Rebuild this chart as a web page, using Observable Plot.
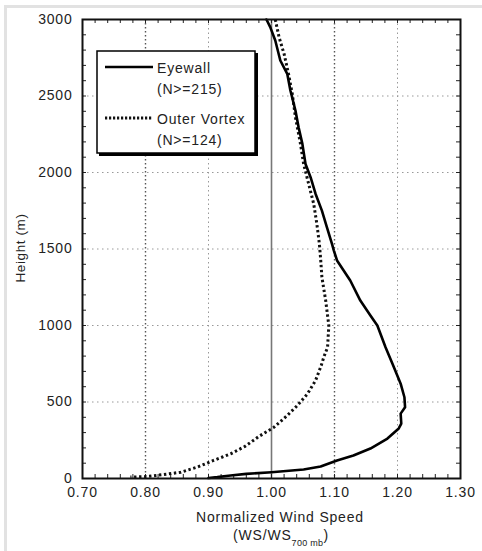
<!DOCTYPE html>
<html>
<head>
<meta charset="utf-8">
<script src="https://cdn.jsdelivr.net/npm/d3@7"></script>
<script src="https://cdn.jsdelivr.net/npm/@observablehq/plot@0.6"></script>
<style>
  html, body { margin: 0; padding: 0; background: #fff; }
  #wrap { position: relative; width: 482px; height: 551px; overflow: hidden; }
  #border { position: absolute; left: 4px; top: 5px; width: 500px; height: 560px;
            border-top: 3px solid #e2e2e2; border-left: 3px solid #e2e2e2; }
  #chart { position: absolute; left: 0; top: 0; }
  svg { font-family: "Liberation Sans", Arial, Helvetica, sans-serif; }
</style>
</head>
<body>
<div id="wrap"><div id="border"></div><div id="chart"></div></div>
<script>
// ---- Data ----
const eyewallWS = [0.992,0.998,1.006,1.014,1.025,1.030,1.038,1.043,1.049,1.054,1.062,1.070,1.080,1.088,1.096,1.099,1.104,1.125,1.141,1.157,1.168,1.181,1.192,1.205,1.211,1.212,1.205,1.206,1.202,1.184,1.157,1.130,1.104,1.078,1.051,1.000,0.960,0.935,0.914,0.900];
const eyewallH  = [3000,2950,2863,2732,2645,2536,2405,2296,2187,2056,1969,1860,1751,1642,1533,1490,1425,1294,1163,1065,1000,858,750,620,531,466,424,359,327,261,196,150,118,78,59,41,30,20,9,3];
const outerWS = [1.006,1.012,1.020,1.027,1.033,1.038,1.046,1.051,1.059,1.067,1.072,1.076,1.078,1.080,1.086,1.091,1.089,1.083,1.079,1.070,1.057,1.041,1.025,1.004,0.980,0.958,0.935,0.908,0.882,0.856,0.829,0.803,0.776];
const outerH  = [3000,2884,2775,2645,2514,2361,2187,2056,1925,1795,1664,1533,1435,1316,1163,1000,858,793,739,641,553,477,412,335,275,210,161,118,74,41,26,13,9];
const xTicks = [0.70,0.80,0.90,1.00,1.10,1.20,1.30];
const yTicks = [0,500,1000,1500,2000,2500,3000];
const xGridDark = [0.80,1.10];
const xGridLight = [0.90,1.20];
const yGrid = [500,1000,1500,2000,2500];
const refLine = [1.00];
const xMinor = d3.range(1, 30).map(i => +(0.70 + i*0.02).toFixed(2));
const yMinor = d3.range(1, 30).map(i => i*100);
const legendItems = ["Eyewall", "(N>=215)", "Outer Vortex", "(N>=124)"];
const xLabel = "Normalized Wind Speed";
const yLabel = "Height (m)";

const eyewall = eyewallWS.map((v, i) => ({ws: v, h: eyewallH[i]}));
const outer = outerWS.map((v, i) => ({ws: v, h: outerH[i]}));

const W = 482, H = 551;
const mL = 82, mR = 22, mT = 19, mB = 73;
const plotH = H - mT - mB;
const plotW = W - mL - mR;
const xDom = [0.70, 1.30], yDom = [0, 3000];
// tick length of 4px expressed in each scale's units
const tkY = 4 * (yDom[1] - yDom[0]) / plotH;
const tkX = 4 * (xDom[1] - xDom[0]) / plotW;
const fontStyle = {fontSize: "14px", letterSpacing: "0.8px", color: "#222", background: "transparent"};

const chart = Plot.plot({
  width: W, height: H,
  marginLeft: mL, marginRight: mR, marginTop: mT, marginBottom: mB,
  style: fontStyle,
  x: {domain: xDom},
  y: {domain: yDom},
  marks: [
    // grid
    Plot.ruleX(xGridDark, {stroke: "#555", strokeWidth: 1.4, strokeDasharray: "1.5,2.5"}),
    Plot.ruleX(xGridLight, {stroke: "#999", strokeWidth: 1, strokeDasharray: "1.5,3"}),
    Plot.ruleY(yGrid, {stroke: "#999", strokeWidth: 1, strokeDasharray: "1.5,3.5"}),
    Plot.ruleX(refLine, {stroke: "#777", strokeWidth: 1.6}),
    // minor ticks (inward)
    Plot.ruleX(xMinor, {x: d => d, y1: yDom[1], y2: yDom[1] - tkY, stroke: "#222", strokeWidth: 1}),
    Plot.ruleX(xMinor, {x: d => d, y1: yDom[0], y2: yDom[0] + tkY, stroke: "#222", strokeWidth: 1}),
    Plot.ruleY(yMinor, {y: d => d, x1: xDom[0], x2: xDom[0] + tkX, stroke: "#222", strokeWidth: 1}),
    Plot.ruleY(yMinor, {y: d => d, x1: xDom[1], x2: xDom[1] - tkX, stroke: "#222", strokeWidth: 1}),
    // axes
    Plot.axisX(xTicks, {anchor: "bottom", tickSize: 0, tickPadding: 9, tickFormat: d3.format(".2f"), label: null, fontSize: 14}),
    Plot.axisY(yTicks, {anchor: "left", tickSize: 0, tickPadding: 10, tickFormat: d => String(d), label: null, fontSize: 14}),
    // data
    Plot.line(outer, {x: "ws", y: "h", stroke: "#111", strokeWidth: 3, strokeDasharray: "2.4,2.6", strokeLinecap: "butt", strokeLinejoin: "miter"}),
    Plot.line(eyewall, {x: "ws", y: "h", stroke: "#000", strokeWidth: 2.6}),
    Plot.frame({stroke: "#111", strokeWidth: 2})
  ]
});

document.getElementById("chart").appendChild(chart);
const svg = d3.select(chart);

// axis titles
svg.append("text")
  .attr("x", 280).attr("y", 522).attr("text-anchor", "middle")
  .attr("font-size", 14).attr("letter-spacing", "0.8px").attr("fill", "#222")
  .text(xLabel);
const t2 = svg.append("text")
  .attr("x", 281).attr("y", 540).attr("text-anchor", "middle")
  .attr("font-size", 14).attr("letter-spacing", "0.8px").attr("fill", "#222");
t2.append("tspan").text("(WS/WS");
t2.append("tspan").attr("font-size", 9).attr("dy", 6).attr("letter-spacing", "0.3px").text("700 mb");
t2.append("tspan").attr("dy", -6).text(")");

svg.append("text")
  .attr("transform", "translate(25,248) rotate(-90)")
  .attr("text-anchor", "middle")
  .attr("font-size", 13.5).attr("letter-spacing", "0.6px").attr("fill", "#222")
  .text(yLabel);

// legend
const lg = svg.append("g");
lg.append("rect").attr("x", 99).attr("y", 53).attr("width", 159).attr("height", 103).attr("fill", "#000");
lg.append("rect").attr("x", 97).attr("y", 51).attr("width", 158).attr("height", 102)
  .attr("fill", "#fff").attr("stroke", "#000").attr("stroke-width", 1.5);
lg.append("line").attr("x1", 105).attr("x2", 153).attr("y1", 67).attr("y2", 67)
  .attr("stroke", "#000").attr("stroke-width", 2.6);
lg.append("line").attr("x1", 105).attr("x2", 153).attr("y1", 118).attr("y2", 118)
  .attr("stroke", "#111").attr("stroke-width", 3).attr("stroke-dasharray", "2.2,1.8");
const ly = [73, 94, 124, 145];
legendItems.forEach((t, i) => {
  lg.append("text").attr("x", 157).attr("y", ly[i]).attr("text-anchor", "start")
    .attr("font-size", 14).attr("letter-spacing", "0.8px").attr("fill", "#222").text(t);
});
</script>
</body>
</html>
